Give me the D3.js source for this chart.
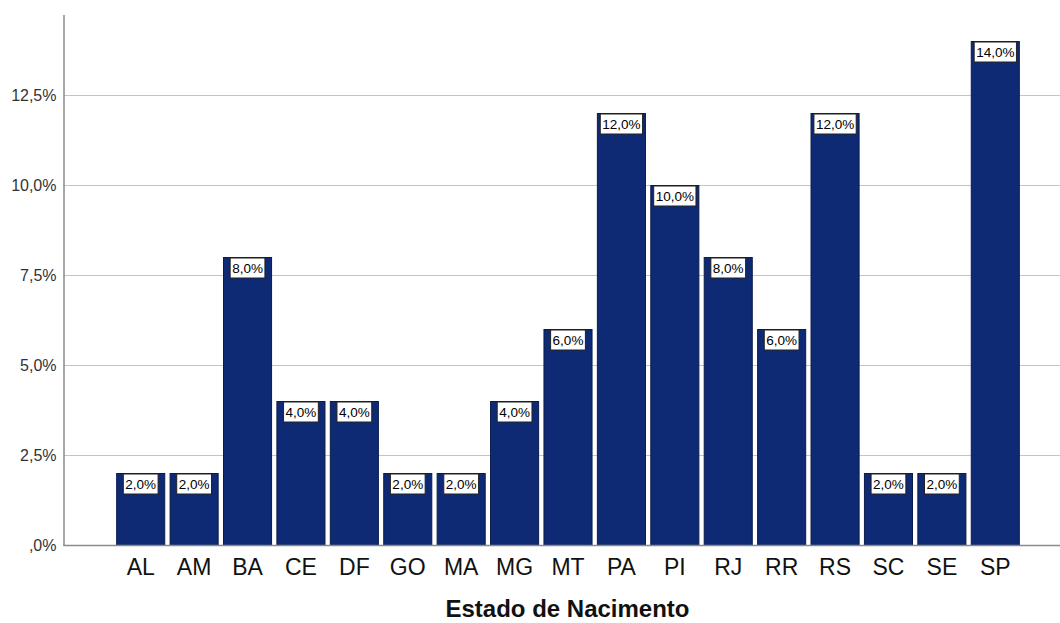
<!DOCTYPE html>
<html>
<head>
<meta charset="utf-8">
<script src="https://cdn.jsdelivr.net/npm/d3@7"></script>
<style>
  html, body { margin: 0; padding: 0; background: #fff; }
  svg { display: block; }
</style>
</head>
<body>
<svg id="chart" width="1060" height="623"></svg>
<script>
// Birth state distribution (percent of respondents)
const states = ["AL","AM","BA","CE","DF","GO","MA","MG","MT","PA","PI","RJ","RR","RS","SC","SE","SP"];
const percents = [2, 2, 8, 4, 4, 2, 2, 4, 6, 12, 10, 8, 6, 12, 2, 2, 14];
const yTicks = [0, 2.5, 5, 7.5, 10, 12.5];
const xTitle = "Estado de Nacimento";

const fmt = v => d3.format(".1f")(v).replace(".", ",") + "%";
const fmtTick = v => (v === 0 ? ",0" : d3.format(".1f")(v).replace(".", ",")) + "%";

const svg = d3.select("#chart");
const font = "Liberation Sans, Arial, sans-serif";

const axisX = 63.5, plotRight = 1060;
const y = d3.scaleLinear().domain([0, 14.75]).range([545.5, 14.5]);
const x = d3.scaleBand().domain(states).range([114, 1022]).paddingInner(0.1).paddingOuter(0.05);

// horizontal gridlines
svg.append("g").selectAll("line")
  .data(yTicks.filter(t => t > 0))
  .join("line")
  .attr("x1", axisX).attr("x2", plotRight)
  .attr("y1", d => y(d)).attr("y2", d => y(d))
  .attr("stroke", "#c4c4c4").attr("stroke-width", 1.2);

// y axis
const yAxis = d3.axisLeft(y).tickValues(yTicks).tickFormat(fmtTick).tickSize(0).tickPadding(7);
const gy = svg.append("g").attr("transform", `translate(${axisX},0)`).call(yAxis);
gy.select(".domain").attr("stroke", "#8a8a8a").attr("stroke-width", 1.5);
gy.selectAll("text").attr("font-family", font).attr("font-size", 16).attr("fill", "#333");

// bars
svg.append("g").selectAll("rect")
  .data(states.map((s, i) => ({ s, v: percents[i] })))
  .join("rect")
  .attr("x", d => x(d.s))
  .attr("width", x.bandwidth())
  .attr("y", d => y(d.v))
  .attr("height", d => y(0) - y(d.v))
  .attr("fill", "#0f2a74")
  .attr("stroke", "#0a1a4a")
  .attr("stroke-width", 1);

// x axis baseline
svg.append("line")
  .attr("x1", axisX).attr("x2", plotRight)
  .attr("y1", y(0)).attr("y2", y(0))
  .attr("stroke", "#8a8a8a").attr("stroke-width", 1.5);

// x axis labels
const xAxis = d3.axisBottom(x).tickSize(0).tickPadding(13);
const gx = svg.append("g").attr("transform", `translate(0,${y(0)})`).call(xAxis);
gx.select(".domain").remove();
gx.selectAll("text").attr("font-family", font).attr("font-size", 23).attr("fill", "#111");

// value labels
const lbl = svg.append("g").selectAll("g")
  .data(states.map((s, i) => ({ s, v: percents[i] })))
  .join("g")
  .attr("transform", d => `translate(${x(d.s) + x.bandwidth() / 2},${y(d.v)})`);
lbl.append("text")
  .attr("text-anchor", "middle")
  .attr("y", 15)
  .attr("font-family", font).attr("font-size", 13.5).attr("fill", "#000")
  .text(d => fmt(d.v));
lbl.each(function () {
  const g = d3.select(this);
  const bb = g.select("text").node().getBBox();
  g.insert("rect", "text")
    .attr("x", bb.x - 2).attr("y", 0.5)
    .attr("width", bb.width + 4).attr("height", 20)
    .attr("fill", "#fff").attr("stroke", "#222").attr("stroke-width", 1);
});

// axis title
svg.append("text")
  .attr("x", 567.5).attr("y", 617)
  .attr("text-anchor", "middle")
  .attr("font-family", font).attr("font-size", 24).attr("font-weight", "bold")
  .attr("fill", "#111")
  .text(xTitle);
</script>
</body>
</html>
